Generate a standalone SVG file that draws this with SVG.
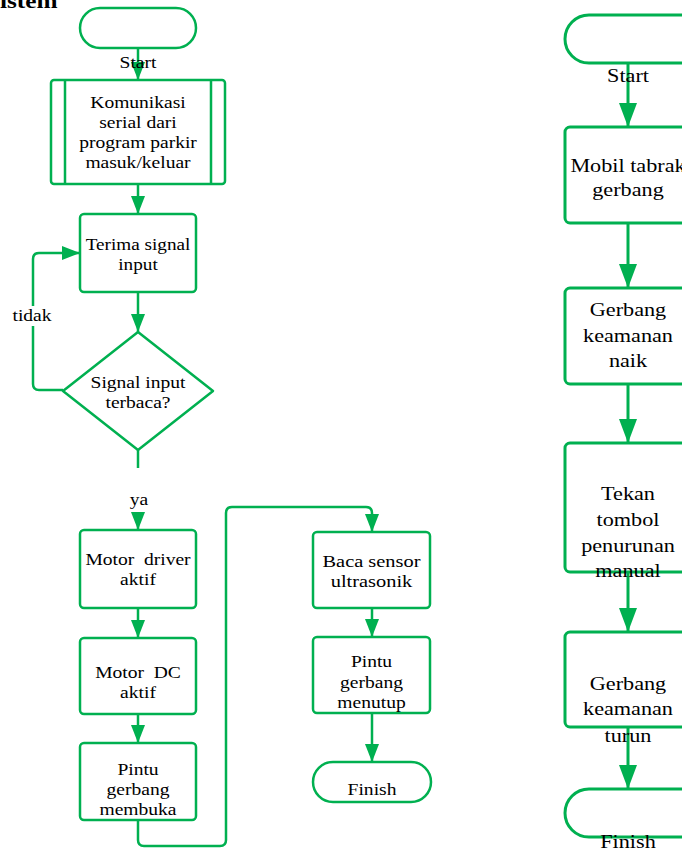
<svg xmlns="http://www.w3.org/2000/svg" width="682" height="850" viewBox="0 0 682 850">
<defs>
<style>
.s{fill:none;stroke:#00b050;stroke-width:2.5;stroke-linejoin:round}
.sr{fill:none;stroke:#00b050;stroke-width:3;stroke-linejoin:round}
.b{fill:#fff;stroke:#00b050;stroke-width:2.5}
.br{fill:#fff;stroke:#00b050;stroke-width:3}
text{font-family:"Liberation Serif","Times New Roman",serif;fill:#000;text-anchor:middle}
.t{font-size:17px}
.tr{font-size:18.5px}
</style>
<marker id="a" viewBox="0 0 18 14" refX="18" refY="7" markerWidth="18" markerHeight="14" markerUnits="userSpaceOnUse" orient="auto"><path d="M0,0 L18,7 L0,14 z" fill="#00b050"/></marker>
<marker id="ar" viewBox="0 0 24 18" refX="24" refY="9" markerWidth="24" markerHeight="18" markerUnits="userSpaceOnUse" orient="auto"><path d="M0,0 L24,9 L0,18 z" fill="#00b050"/></marker>
</defs>
<rect width="682" height="850" fill="#fff"/>
<text transform="translate(0,8) scale(1.15,1)" style="font-size:22px;font-weight:bold;text-anchor:start">istem</text>

<g id="connectors">
<path class="s" d="M138,48 V80" marker-end="url(#a)"/>
<path class="s" d="M138,184 V214" marker-end="url(#a)"/>
<path class="s" d="M138,292 V332" marker-end="url(#a)"/>
<path class="s" d="M63,390 H39 Q33,390 33,384 V259 Q33,253 39,253 H80" marker-end="url(#a)"/>
<path class="s" d="M138,450 V468"/>
<path class="s" d="M138,513 V530" marker-end="url(#a)"/>
<path class="s" d="M138,608 V638" marker-end="url(#a)"/>
<path class="s" d="M138,714 V743" marker-end="url(#a)"/>
<path class="s" d="M138,820 V840 Q138,846 144,846 H220 Q226,846 226,840 V513 Q226,507 232,507 H366 Q372,507 372,513 V532" marker-end="url(#a)"/>
<path class="s" d="M372,608 V637" marker-end="url(#a)"/>
<path class="s" d="M372,713 V762" marker-end="url(#a)"/>
<path class="sr" d="M628,63 V127" marker-end="url(#ar)"/>
<path class="sr" d="M628,223 V288" marker-end="url(#ar)"/>
<path class="sr" d="M628,384 V443" marker-end="url(#ar)"/>
<path class="sr" d="M628,572 V632" marker-end="url(#ar)"/>
<path class="sr" d="M628,727 V789" marker-end="url(#ar)"/>
</g>

<g id="start1"><rect class="b" x="80" y="8" width="116" height="40" rx="20"/></g>
<g id="komunikasi">
<rect class="b" x="51" y="80" width="174" height="104" rx="3"/>
<path class="s" d="M65,80 V184 M211,80 V184"/>
<text class="t" transform="translate(138,108) scale(1.15,1)">Komunikasi</text>
<text class="t" transform="translate(138,128) scale(1.15,1)">serial dari</text>
<text class="t" transform="translate(138,148) scale(1.15,1)">program parkir</text>
<text class="t" transform="translate(138,168) scale(1.15,1)">masuk/keluar</text>
</g>
<g id="terima">
<rect class="b" x="80" y="214" width="116" height="78" rx="4"/>
<text class="t" transform="translate(138,250) scale(1.13,1)">Terima signal</text>
<text class="t" transform="translate(138,270) scale(1.13,1)">input</text>
</g>
<g id="decision">
<path class="b" d="M138,332 L213,391 L138,450 L63,391 Z" stroke-linejoin="round"/>
<text class="t" transform="translate(138,388) scale(1.15,1)">Signal input</text>
<text class="t" transform="translate(138,408) scale(1.15,1)">terbaca?</text>
</g>
<g id="lbl-tidak">
<rect x="10" y="306" width="44" height="20" fill="#fff"/>
<text class="t" transform="translate(32,321) scale(1.15,1)">tidak</text>
</g>
<g id="lbl-ya"><text class="t" transform="translate(139,505) scale(1.15,1)">ya</text></g>
<g id="motordriver">
<rect class="b" x="80" y="530" width="116" height="78" rx="4"/>
<text class="t" transform="translate(138,565) scale(1.15,1)" style="white-space:pre">Motor  driver</text>
<text class="t" transform="translate(138,585) scale(1.15,1)">aktif</text>
</g>
<g id="motordc">
<rect class="b" x="80" y="638" width="116" height="76" rx="4"/>
<text class="t" transform="translate(138,678) scale(1.15,1)" style="white-space:pre">Motor  DC</text>
<text class="t" transform="translate(138,698) scale(1.15,1)">aktif</text>
</g>
<g id="membuka">
<rect class="b" x="80" y="743" width="116" height="77" rx="4"/>
<text class="t" transform="translate(138,775) scale(1.15,1)">Pintu</text>
<text class="t" transform="translate(138,795) scale(1.15,1)">gerbang</text>
<text class="t" transform="translate(138,815) scale(1.15,1)">membuka</text>
</g>
<g id="baca">
<rect class="b" x="313" y="532" width="117" height="76" rx="4"/>
<text class="t" transform="translate(371.5,567) scale(1.2,1)">Baca sensor</text>
<text class="t" transform="translate(371.5,587) scale(1.2,1)">ultrasonik</text>
</g>
<g id="menutup">
<rect class="b" x="313" y="637" width="117" height="76" rx="4"/>
<text class="t" transform="translate(371.5,667) scale(1.15,1)">Pintu</text>
<text class="t" transform="translate(371.5,688) scale(1.15,1)">gerbang</text>
<text class="t" transform="translate(371.5,708) scale(1.15,1)">menutup</text>
</g>
<g id="finish1">
<rect class="b" x="313" y="762" width="118" height="40" rx="20"/>
<text class="t" transform="translate(372,795) scale(1.15,1)">Finish</text>
</g>
<g id="lbl-start1"><text class="t" transform="translate(138,68) scale(1.15,1)">Start</text></g>

<g id="start2"><rect class="br" x="565" y="15" width="140" height="48" rx="24"/></g>
<g id="mobil">
<rect class="br" x="565" y="127" width="126" height="96" rx="5"/>
<text class="tr" transform="translate(628,172) scale(1.2,1)">Mobil tabrak</text>
<text class="tr" transform="translate(628,196) scale(1.2,1)">gerbang</text>
</g>
<g id="naik">
<rect class="br" x="565" y="288" width="126" height="96" rx="5"/>
<text class="tr" transform="translate(628,316) scale(1.2,1)">Gerbang</text>
<text class="tr" transform="translate(628,342) scale(1.2,1)">keamanan</text>
<text class="tr" transform="translate(628,367) scale(1.2,1)">naik</text>
</g>
<g id="tekan">
<rect class="br" x="565" y="443" width="126" height="129" rx="5"/>
<text class="tr" transform="translate(628,500) scale(1.2,1)">Tekan</text>
<text class="tr" transform="translate(628,526) scale(1.2,1)">tombol</text>
<text class="tr" transform="translate(628,552) scale(1.2,1)">penurunan</text>
<text class="tr" transform="translate(628,577) scale(1.2,1)">manual</text>
</g>
<g id="turun">
<rect class="br" x="565" y="632" width="126" height="95" rx="5"/>
<text class="tr" transform="translate(628,690) scale(1.2,1)">Gerbang</text>
<text class="tr" transform="translate(628,715) scale(1.2,1)">keamanan</text>
<text class="tr" transform="translate(628,742) scale(1.2,1)">turun</text>
</g>
<g id="finish2">
<rect class="br" x="565" y="789" width="140" height="48" rx="24"/>
<text class="tr" transform="translate(628,848) scale(1.2,1)">Finish</text>
</g>
<g id="lbl-start2"><text class="tr" transform="translate(628,82) scale(1.2,1)">Start</text></g>
</svg>
